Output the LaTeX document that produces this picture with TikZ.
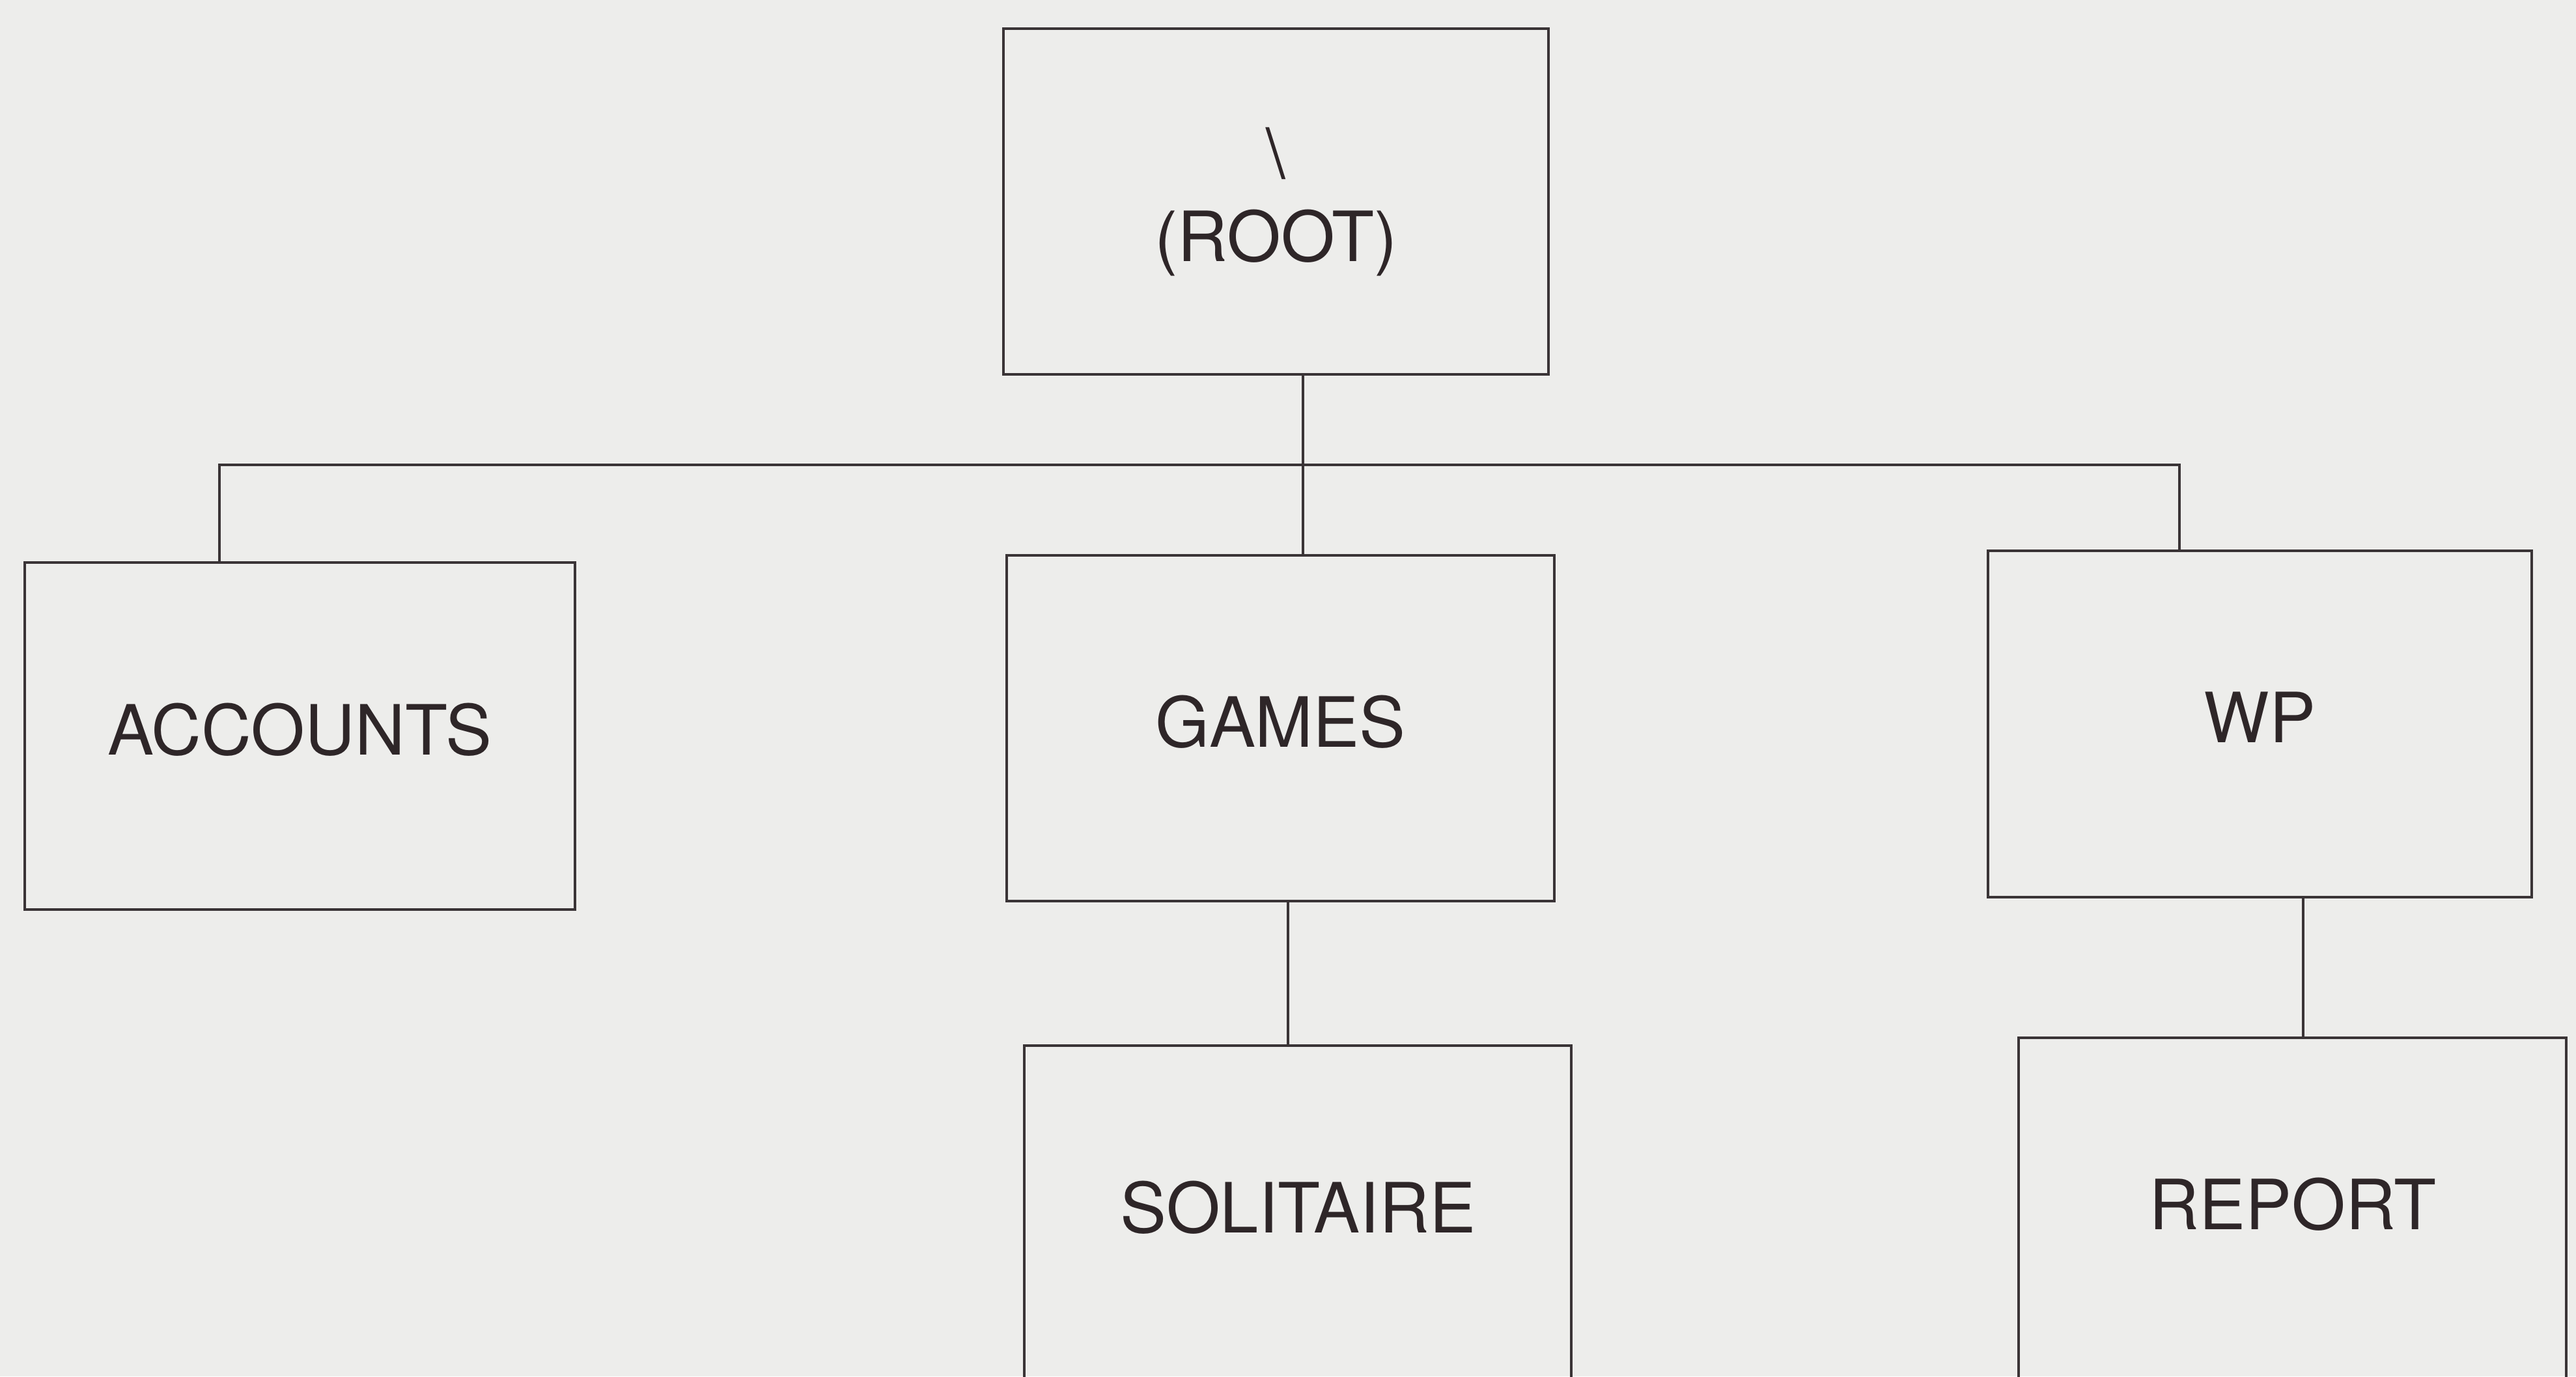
\documentclass[tikz,border=0pt]{standalone}
\usepackage{fontspec}
\setmainfont{TeX Gyre Heros}
\usetikzlibrary{calc}
\definecolor{bg}{HTML}{EDEDEB}
\definecolor{ink}{HTML}{3A3436}
\definecolor{txt}{HTML}{2E2628}
\begin{document}
\begin{tikzpicture}[x=0.01cm,y=-0.01cm,
  box/.style={draw=ink, line width=0.45pt, inner sep=0pt,
    minimum width=3.33cm, minimum height=2.105cm,
    font=\fontsize{12}{14.4}\selectfont, text=txt, align=center},
  raised/.style={text depth=2.4pt},
  lbl/.style={font=\fontsize{12}{14.4}\selectfont, text=txt, inner sep=0pt},
  conn/.style={draw=ink, line width=0.45pt}]
\fill[bg] (0,0) rectangle (1568,838);
\clip (0,0) rectangle (1568,838);
% boxes
\node[box, minimum width=3.315cm] (root) at (776.75,122.75) {\textbackslash\\(ROOT)};
\node[box, raised, minimum width=3.35cm, minimum height=2.11cm] (acc) at (182.5,448) {ACCOUNTS};
\node[box, raised] (games) at (779.5,443.2) {GAMES};
\node[box, raised, minimum width=3.31cm] (wp) at (1375.5,440.8) {WP};
\node[box, minimum height=2.6cm] (sol) at (790,766.6) {};
\node[box, minimum height=2.6cm] (rep) at (1395.5,762) {};
\node[lbl] (soltxt) at ($(sol.north)+(0,99.5)$) {SOLITAIRE};
\node[lbl] (reptxt) at ($(rep.north)+(0,102)$) {REPORT};
% connector junctions
\coordinate (jr) at (793,283);
\coordinate (ja) at (133.5,283);
\coordinate (jw) at (1326.5,283);
\coordinate (jg) at (784,0);
\coordinate (jp) at (1402,0);
% connectors
\draw[conn] (root.south -| jr) -- (games.north -| jr);
\draw[conn] (acc.north -| ja) -- (ja) -- (jw) -- (wp.north -| jw);
\draw[conn] (games.south -| jg) -- (sol.north -| jg);
\draw[conn] (wp.south -| jp) -- (rep.north -| jp);
\end{tikzpicture}
\end{document}
